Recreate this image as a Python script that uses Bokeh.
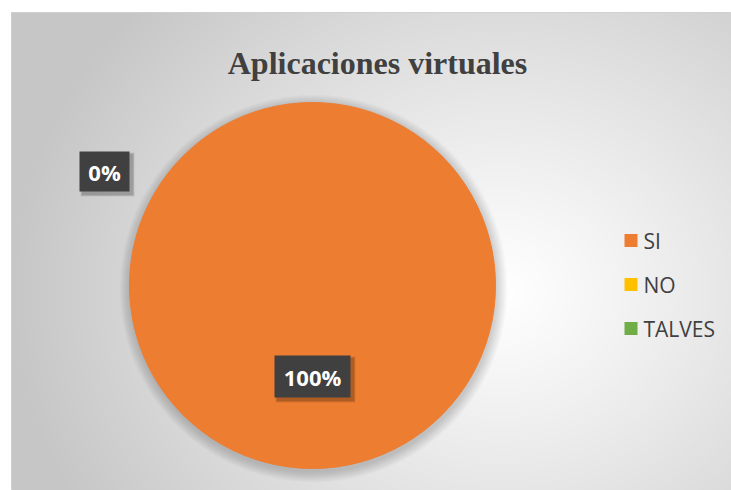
import numpy as np
from bokeh.plotting import figure
from bokeh.models import ColumnDataSource, Range1d
from bokeh.core.properties import value
from bokeh.embed import file_html
from bokeh.resources import INLINE

# ---- data ----
title = "Aplicaciones virtuales"
categories = ["SI", "NO", "TALVES"]
counts = [100, 0, 0]
colors = ["#ED7D31", "#FFC000", "#70AD47"]

# ---- geometry (frame pixels, y up) ----
W, H = 720, 478
p = figure(width=731, height=490, x_range=Range1d(0, W), y_range=Range1d(0, H),
           output_backend="svg", toolbar_location=None,
           min_border_left=11, min_border_top=12, min_border_right=0, min_border_bottom=0)
p.axis.visible = False
p.grid.visible = False
p.border_fill_color = "white"
p.outline_line_color = "#d0d0d0"
p.background_fill_color = "#e8e8e8"

# radial gradient background
yy, xx = np.mgrid[0:H, 0:W]
py = H - yy  # y from top of frame
cx, cy = 490, 280
d = np.sqrt(((xx - cx) / 1.15) ** 2 + (py - cy) ** 2)
t = np.clip(d / 430.0, 0, 1)
g = (255 - 57 * t ** 1.1).astype(np.uint32)
img = (255 << 24) | (g << 16) | (g << 8) | g
p.image_rgba(image=[img.astype(np.uint32)], x=0, y=0, dw=W, dh=H)

# pie
pcx, pcy, r = 301, 205, 183
for k in range(1, 12):
    p.circle(x=pcx + 1, y=pcy - 3, radius=r + k, fill_color="black", fill_alpha=0.015, line_color=None)

total = float(sum(counts))
fracs = [c / total for c in counts]
cum = np.cumsum([0] + fracs)
starts, ends = [], []
for i in range(len(counts)):
    s = np.pi / 2 - 2 * np.pi * cum[i]
    span = min(2 * np.pi * fracs[i], 2 * np.pi - 1e-3)  # full circle arcs vanish in SVG
    starts.append(s)
    ends.append(s - span)
keep = [i for i in range(len(counts)) if counts[i] > 0]
src = ColumnDataSource(dict(cat=[categories[i] for i in keep], start=[starts[i] for i in keep],
                            end=[ends[i] for i in keep], color=[colors[i] for i in keep]))
p.wedge(x=pcx, y=pcy, radius=r, start_angle="start", end_angle="end", direction="clock",
        fill_color="color", line_color="color", line_width=1, source=src)

# data labels
lab_text = ["%d%%" % round(f * 100) for f in fracs]
lab_x = [312 - 11, 104 - 11]
lab_y = [490 - 376, 490 - 171]
lab_w = [76, 50]
lab_h = [42, 40]
lsrc = ColumnDataSource(dict(x=lab_x, y=lab_y, w=lab_w, h=lab_h, t=[lab_text[0], lab_text[1]]))
for k in range(1, 5):
    p.rect(x=[v + 3 for v in lab_x], y=[v - 3 for v in lab_y], width=[w + k for w in lab_w],
           height=[h + k for h in lab_h], fill_color="black", fill_alpha=0.07, line_color=None)
p.rect(x="x", y="y", width="w", height="h", fill_color="#404040", line_color=None, source=lsrc)
p.text(x="x", y="y", text="t", text_align="center", text_baseline="middle",
       text_font=value("Open Sans"), text_font_style="bold", text_font_size="22px",
       text_color="white", source=lsrc)

# title
p.text(x=[366], y=[490 - 62], text=[title], text_align="center", text_baseline="alphabetic",
       text_font=value("Liberation Serif"), text_font_style="bold", text_font_size="32px",
       text_color="#404040")

# legend
leg_y = [490 - 240, 490 - 284, 490 - 328]
legsrc = ColumnDataSource(dict(y=leg_y, cat=categories, color=colors))
p.rect(x=619.5, y="y", width=13, height=13, fill_color="color", line_color=None, source=legsrc)
p.text(x=632, y="y", text="cat", text_align="left", text_baseline="middle",
       text_font=value("Open Sans"), text_font_size="21px", text_color="#404040", source=legsrc)

open("out.html", "w").write(file_html(p, INLINE))
